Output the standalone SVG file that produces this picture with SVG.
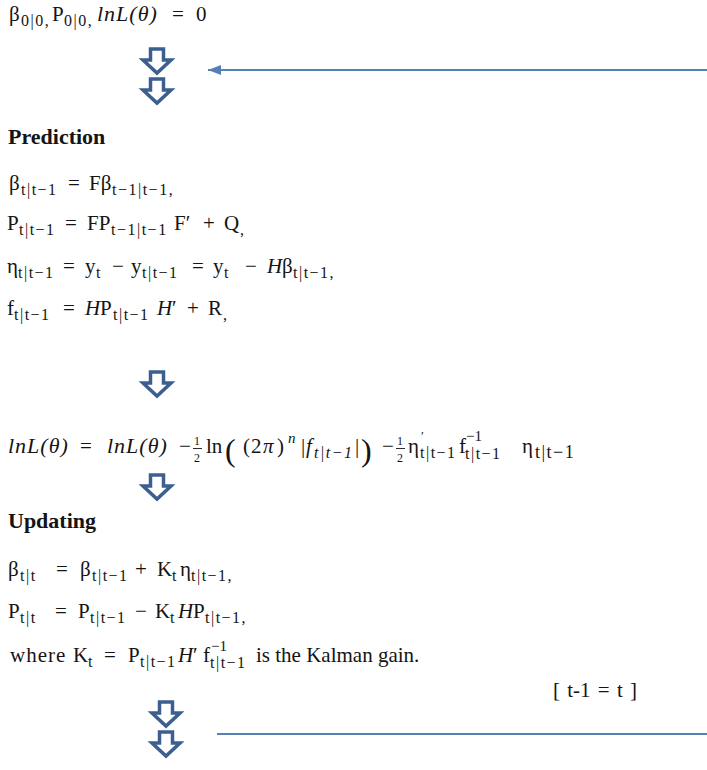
<svg xmlns="http://www.w3.org/2000/svg" width="707" height="770" viewBox="0 0 707 770">
<defs>
<style>
text{font-family:"Liberation Serif","Times New Roman",serif;font-size:21px;fill:#141414}
.i{font-style:italic}
.L{font-style:italic;font-size:22px;letter-spacing:1px}
.s{font-size:16px;letter-spacing:1.5px}
.p{font-size:15px}
.q{font-size:13px}
.h{font-weight:bold;font-size:22px}
.big{font-size:32px}
.arr{fill:#ffffff;stroke:#3c5f8f;stroke-width:3.5;stroke-linejoin:miter}
.ln{stroke:#5580b4;stroke-width:2;fill:none}
.fr{stroke:#141414;stroke-width:0.9}
</style>
<path id="dn" d="M-6.5,0 H6.5 V11 H14 L0,24 L-14,11 H-6.5 Z"/>
<marker id="ah" markerWidth="13" markerHeight="10" refX="13" refY="5" orient="auto" markerUnits="userSpaceOnUse"><path d="M0,0 L13,5 L0,10 Z" fill="#5580b4"/></marker>
</defs>
<rect width="707" height="770" fill="#ffffff"/>

<g id="init">
<text><tspan x="9" y="21">β</tspan><tspan class="s" x="21" y="26">0|0,</tspan><tspan x="52" y="21">P</tspan><tspan class="s" x="64" y="26">0|0,</tspan><tspan class="L" x="97" y="21">lnL(θ)</tspan><tspan x="172" y="21">=</tspan><tspan x="196" y="21">0</tspan></text>
</g>

<g id="prediction">
<text class="h" x="8" y="144">Prediction</text>
<text><tspan x="9" y="190">β</tspan><tspan class="s" x="21" y="195">t|t−1</tspan><tspan x="68" y="190">=</tspan><tspan x="89" y="190">Fβ</tspan><tspan class="s" x="112" y="195">t−1|t−1,</tspan></text>
<text><tspan x="7" y="230">P</tspan><tspan class="s" x="19" y="235">t|t−1</tspan><tspan x="65" y="230">=</tspan><tspan x="87" y="230">FP</tspan><tspan class="s" x="111" y="235">t−1|t−1</tspan><tspan x="174" y="230">F′</tspan><tspan x="203" y="230">+</tspan><tspan x="224" y="230">Q</tspan><tspan class="s" x="240" y="235">,</tspan></text>
<text><tspan x="7" y="273">η</tspan><tspan class="s" x="18" y="278">t|t−1</tspan><tspan x="63" y="273">=</tspan><tspan x="85" y="273">y</tspan><tspan class="s" x="96" y="278">t</tspan><tspan x="112" y="273">−</tspan><tspan x="131" y="273">y</tspan><tspan class="s" x="142" y="278">t|t−1</tspan><tspan x="192" y="273">=</tspan><tspan x="213" y="273">y</tspan><tspan class="s" x="224" y="278">t</tspan><tspan x="245" y="273">−</tspan><tspan class="i" x="267" y="273">H</tspan><tspan x="282" y="273">β</tspan><tspan class="s" x="293" y="278">t|t−1,</tspan></text>
<text><tspan x="7" y="315">f</tspan><tspan class="s" x="14" y="320">t|t−1</tspan><tspan x="63" y="315">=</tspan><tspan class="i" x="85" y="315">H</tspan><tspan x="100" y="315">P</tspan><tspan class="s" x="113" y="320">t|t−1</tspan><tspan class="i" x="157" y="315">H</tspan><tspan x="172" y="315">′</tspan><tspan x="187" y="315">+</tspan><tspan x="208" y="315">R</tspan><tspan class="s" x="223" y="320">,</tspan></text>
</g>

<g id="likelihood">
<text><tspan class="L" x="8" y="453">lnL(θ)</tspan><tspan x="80" y="453">=</tspan><tspan class="L" x="107" y="453">lnL(θ)</tspan><tspan x="179" y="453">−</tspan><tspan x="206" y="453">ln</tspan><tspan class="big" x="225" y="461">(</tspan><tspan x="243" y="453">(</tspan><tspan x="251" y="453">2</tspan><tspan class="i" x="263" y="453">π</tspan><tspan x="277" y="453">)</tspan><tspan class="p i" x="288" y="443">n</tspan><tspan x="301" y="453">|</tspan><tspan class="i" x="306" y="453">f</tspan><tspan class="s i" x="314" y="458">t|t−1</tspan><tspan x="355" y="453">|</tspan><tspan class="big" x="361" y="461">)</tspan><tspan x="382" y="453">−</tspan><tspan x="408" y="453">η</tspan><tspan class="s" x="420" y="458">t|t−1</tspan><tspan x="459" y="453">f</tspan><tspan class="s" x="465" y="459">t|t−1</tspan><tspan x="522" y="453">η</tspan><tspan class="s" x="535" y="458" style="font-size:18px">t|t−1</tspan></text>
<text class="q"><tspan x="421" y="440">′</tspan></text>
<text class="p"><tspan x="466" y="441">−1</tspan></text>
<text style="font-size:12px"><tspan x="194" y="445">1</tspan><tspan x="194" y="462">2</tspan><tspan x="397" y="445">1</tspan><tspan x="397" y="462">2</tspan></text>
<line class="fr" x1="193" y1="448.5" x2="202" y2="448.5"/>
<line class="fr" x1="396" y1="448.5" x2="405" y2="448.5"/>
</g>

<g id="updating">
<text class="h" x="8" y="528">Updating</text>
<text><tspan x="8" y="576">β</tspan><tspan class="s" x="20" y="581">t|t</tspan><tspan x="56" y="576">=</tspan><tspan x="80" y="576">β</tspan><tspan class="s" x="92" y="581">t|t−1</tspan><tspan x="135" y="576">+</tspan><tspan x="157" y="576">K</tspan><tspan class="s" x="172" y="581">t</tspan><tspan x="180" y="576">η</tspan><tspan class="s" x="191" y="581">t|t−1,</tspan></text>
<text><tspan x="8" y="618">P</tspan><tspan class="s" x="20" y="623">t|t</tspan><tspan x="55" y="618">=</tspan><tspan x="78" y="618">P</tspan><tspan class="s" x="90" y="623">t|t−1</tspan><tspan x="135" y="618">−</tspan><tspan x="155" y="618">K</tspan><tspan class="s" x="170" y="623">t</tspan><tspan class="i" x="178" y="618">H</tspan><tspan x="193" y="618">P</tspan><tspan class="s" x="205" y="623">t|t−1,</tspan></text>
<text><tspan x="10" y="662" letter-spacing="1">where</tspan><tspan x="73" y="662">K</tspan><tspan class="s" x="88" y="667">t</tspan><tspan x="104" y="662">=</tspan><tspan x="128" y="662">P</tspan><tspan class="s" x="140" y="667">t|t−1</tspan><tspan class="i" x="178" y="662">H</tspan><tspan x="193" y="662">′</tspan><tspan x="203" y="662">f</tspan><tspan class="s" x="210" y="668">t|t−1</tspan><tspan x="256" y="662">is the Kalman gain.</tspan></text>
<text class="p"><tspan x="211" y="651">−1</tspan></text>
</g>

<g id="iterate">
<text x="553" y="697" word-spacing="2">[ t-1 = t ]</text>
</g>

<g id="connectors">
<use href="#dn" class="arr" x="157" y="49"/>
<use href="#dn" class="arr" x="157" y="79"/>
<use href="#dn" class="arr" x="157" y="372"/>
<use href="#dn" class="arr" x="157" y="475"/>
<use href="#dn" class="arr" x="166" y="702"/>
<use href="#dn" class="arr" x="166" y="732"/>
<line class="ln" x1="707" y1="70" x2="208" y2="70" marker-end="url(#ah)"/>
<line class="ln" x1="217" y1="734" x2="707" y2="734"/>
</g>
</svg>
